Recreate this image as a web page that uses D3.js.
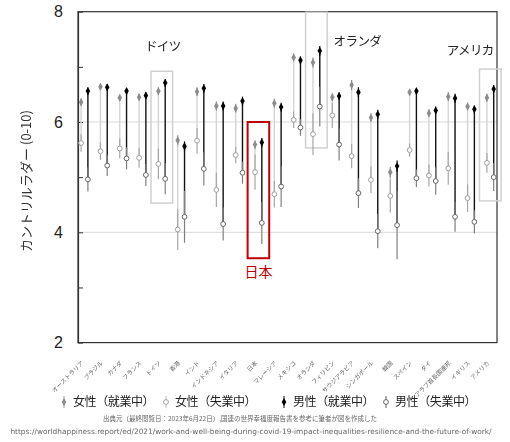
<!DOCTYPE html>
<html>
<head>
<meta charset="utf-8">
<script src="https://cdn.jsdelivr.net/npm/d3@7"></script>
<style>
  body { margin: 0; background: #fff; }
  svg text { font-family: "Noto Sans CJK JP", "Liberation Sans", sans-serif; }
  .grey-text { filter: grayscale(1); }
</style>
</head>
<body>
<div class="d3-wrapper"></div>
<script>
const countries = ['オーストラリア', 'ブラジル', 'カナダ', 'フランス', 'ドイツ', '香港', 'インド', 'インドネシア',
  'イタリア', '日本', 'マレーシア', 'メキシコ', 'オランダ', 'フィリピン', 'サウジアラビア', 'シンガポール',
  '韓国', 'スペイン', 'タイ', 'アラブ首長国連邦', 'イギリス', 'アメリカ'];

// 値（カントリルラダー）
const femaleEmployed   = [6.36, 6.64, 6.44, 6.45, 6.56, 5.67, 6.55, 6.29, 6.25, 5.59, 6.34, 7.17, 7.08, 6.45, 6.67, 6.08, 5.09, 6.54, 6.16, 6.46, 6.28, 6.44];
const femaleUnemployed = [5.62, 5.47, 5.52, 5.35, 5.24, 4.05, 5.66, 4.77, 5.40, 5.09, 4.69, 6.04, 5.78, 6.12, 5.38, 4.95, 4.66, 5.49, 5.03, 5.16, 4.62, 5.26];
const maleEmployed     = [6.56, 6.63, 6.56, 6.48, 6.71, 5.56, 6.61, 6.29, 6.38, 5.63, 6.27, 7.12, 7.29, 6.47, 6.54, 6.14, 5.20, 6.56, 6.21, 6.43, 6.23, 6.60];
const maleUnemployed   = [4.96, 5.21, 5.34, 5.04, 4.97, 4.28, 5.15, 4.15, 5.08, 4.17, 4.83, 5.90, 6.28, 5.59, 4.71, 4.02, 4.13, 4.98, 4.93, 4.28, 4.19, 5.00];

// 信頼区間（片側幅）
const femaleEmployedCI   = [0.07, 0.06, 0.06, 0.06, 0.07, 0.09, 0.08, 0.08, 0.08, 0.08, 0.08, 0.07, 0.09, 0.07, 0.09, 0.08, 0.10, 0.06, 0.07, 0.08, 0.07, 0.07];
const femaleUnemployedCI = [0.16, 0.16, 0.18, 0.18, 0.28, 0.37, 0.23, 0.31, 0.15, 0.32, 0.24, 0.15, 0.38, 0.23, 0.22, 0.24, 0.30, 0.12, 0.20, 0.30, 0.25, 0.18];
const maleEmployedCI     = [0.07, 0.06, 0.06, 0.06, 0.07, 0.09, 0.08, 0.08, 0.08, 0.08, 0.08, 0.07, 0.09, 0.07, 0.09, 0.08, 0.10, 0.06, 0.07, 0.08, 0.07, 0.07];
const maleUnemployedCI   = [0.22, 0.19, 0.20, 0.20, 0.28, 0.47, 0.30, 0.30, 0.20, 0.38, 0.37, 0.15, 0.36, 0.29, 0.27, 0.31, 0.62, 0.16, 0.25, 0.27, 0.21, 0.25];

const yTicks = [2, 3, 4, 5, 6, 7, 8];
const yTickLabels = [2, 4, 6, 8];
const gridValues = [4, 6];

// 注目国の枠（値の範囲）
const highlightCountries = ['ドイツ', 'オランダ', 'アメリカ'];
const highlightTop = [6.92, 7.99, 6.96];
const highlightBottom = [4.53, 5.53, 4.57];
const highlightLabels = ['ドイツ', 'オランダ', 'アメリカ'];
const japanBox = { country: '日本', top: 6.0, bottom: 3.53, label: '日本' };

const legendLabels = ['女性（就業中）', '女性（失業中）', '男性（就業中）', '男性（失業中）'];
const sourceLines = [
  '出典元（最終閲覧日：2023年6月22日）,国連の世界幸福度報告書を参考に筆者が図を作成した',
  'https://worldhappiness.report/ed/2021/work-and-well-being-during-covid-19-impact-inequalities-resilience-and-the-future-of-work/'
];

const WIDTH = 510, HEIGHT = 442;
const PLOT = { left: 78, right: 497, top: 11.7, bottom: 342.6 };
const OFFSET = 3.4;
const BOX_HALF = 10.8;

const xScale = d3.scalePoint().domain(countries).range([84.5, 490.3]);
const yScale = d3.scaleLinear().domain([2, 8]).range([PLOT.bottom, PLOT.top]);

const svg = d3.select('.d3-wrapper').append('svg')
  .attr('width', WIDTH)
  .attr('height', HEIGHT);

// gridlines
svg.append('g').selectAll('line')
  .data(gridValues)
  .enter().append('line')
  .attr('x1', PLOT.left).attr('x2', PLOT.right)
  .attr('y1', d => yScale(d)).attr('y2', d => yScale(d))
  .attr('stroke', '#d9d9d9').attr('stroke-width', 1);

// frame
svg.append('rect')
  .attr('x', PLOT.left).attr('y', PLOT.top)
  .attr('width', PLOT.right - PLOT.left)
  .attr('height', PLOT.bottom - PLOT.top)
  .attr('fill', 'none').attr('stroke', '#333').attr('stroke-width', 1.2);

// y axis
const yAxis = d3.axisLeft(yScale)
  .tickValues(yTicks)
  .tickSizeInner(-5)
  .tickSizeOuter(0)
  .tickPadding(15)
  .tickFormat(d => yTickLabels.includes(d) ? d : '');

const yG = svg.append('g')
  .attr('transform', `translate(${PLOT.left},0)`)
  .call(yAxis);
yG.select('.domain').attr('stroke', '#333').attr('stroke-width', 1.2);
yG.selectAll('.tick line').attr('stroke', '#333');
yG.selectAll('.tick text')
  .style('font-family', '"Liberation Sans", Arial, sans-serif')
  .style('font-size', '16px')
  .attr('fill', '#222');

svg.append('text')
  .attr('class', 'grey-text')
  .attr('transform', 'translate(31,181) rotate(-90)')
  .attr('text-anchor', 'middle')
  .style('font-size', '13px')
  .attr('fill', '#333')
  .text('カントリルラダー (0-10)');

// highlight boxes
highlightCountries.forEach((c, i) => {
  svg.append('rect')
    .attr('x', xScale(c) - BOX_HALF)
    .attr('y', yScale(highlightTop[i]))
    .attr('width', BOX_HALF * 2)
    .attr('height', yScale(highlightBottom[i]) - yScale(highlightTop[i]))
    .attr('fill', 'none').attr('stroke', '#d0d0d0').attr('stroke-width', 1.5);
});

svg.append('rect')
  .attr('x', xScale(japanBox.country) - BOX_HALF)
  .attr('y', yScale(japanBox.top))
  .attr('width', BOX_HALF * 2)
  .attr('height', yScale(japanBox.bottom) - yScale(japanBox.top))
  .attr('fill', 'none').attr('stroke', '#c00000').attr('stroke-width', 2);

// series drawing
const rows = countries.map((c, i) => ({
  c,
  fe: femaleEmployed[i], fu: femaleUnemployed[i],
  me: maleEmployed[i], mu: maleUnemployed[i],
  feCI: femaleEmployedCI[i], fuCI: femaleUnemployedCI[i],
  meCI: maleEmployedCI[i], muCI: maleUnemployedCI[i]
}));

const diamond = d3.symbol().type(d3.symbolDiamond).size(18);

function drawGender(key, dx, st) {
  const g = svg.append('g');
  const x = d => xScale(d.c) + dx;
  const emp = d => d[key + 'e'], unemp = d => d[key + 'u'];
  const empCI = d => d[key + 'eCI'], unempCI = d => d[key + 'uCI'];

  // connector employed -> unemployed
  g.selectAll('.conn').data(rows).enter().append('line')
    .attr('x1', x).attr('x2', x)
    .attr('y1', d => yScale(emp(d))).attr('y2', d => yScale(unemp(d)))
    .attr('stroke', st.conn).attr('stroke-width', st.connWidth);

  // unemployed CI
  g.selectAll('.uci').data(rows).enter().append('line')
    .attr('x1', x).attr('x2', x)
    .attr('y1', d => yScale(unemp(d) + unempCI(d))).attr('y2', d => yScale(unemp(d) - unempCI(d)))
    .attr('stroke', st.ci).attr('stroke-width', 1.2);

  // employed CI
  g.selectAll('.eci').data(rows).enter().append('line')
    .attr('x1', x).attr('x2', x)
    .attr('y1', d => yScale(emp(d) + empCI(d))).attr('y2', d => yScale(emp(d) - empCI(d)))
    .attr('stroke', st.emp).attr('stroke-width', 1.2);

  g.selectAll('.em').data(rows).enter().append('path')
    .attr('d', diamond)
    .attr('transform', d => `translate(${x(d)},${yScale(emp(d))})`)
    .attr('fill', st.emp);

  g.selectAll('.um').data(rows).enter().append('circle')
    .attr('cx', x).attr('cy', d => yScale(unemp(d)))
    .attr('r', 2.4)
    .attr('fill', '#fff').attr('stroke', st.unemp).attr('stroke-width', 1);
}

const femaleStyle = { conn: '#d4d4d4', connWidth: 1.4, ci: '#a6a6a6', emp: '#8c8c8c', unemp: '#a0a0a0' };
const maleStyle = { conn: '#111', connWidth: 1.4, ci: '#7f7f7f', emp: '#000', unemp: '#666' };

drawGender('f', -OFFSET, femaleStyle);
drawGender('m', OFFSET, maleStyle);

// annotation labels
const labelY = [47, 42, 51];
const labelDX = [1, 41, -20];
highlightCountries.forEach((c, i) => {
  svg.append('text')
    .attr('class', 'grey-text')
    .attr('x', xScale(c) + labelDX[i])
    .attr('y', labelY[i])
    .attr('dy', '0.35em')
    .attr('text-anchor', 'middle')
    .style('font-size', '12.5px')
    .style('letter-spacing', '-0.6px')
    .attr('fill', '#222')
    .text(highlightLabels[i]);
});

svg.append('text')
  .attr('x', xScale(japanBox.country))
  .attr('y', 272)
  .attr('dy', '0.35em')
  .attr('text-anchor', 'middle')
  .style('font-size', '14px')
  .attr('fill', '#c00000')
  .text(japanBox.label);

// x labels
svg.append('g')
  .attr('class', 'grey-text')
  .selectAll('text')
  .data(countries)
  .enter().append('text')
  .attr('transform', d => `translate(${xScale(d) - 2},362) rotate(-45)`)
  .attr('text-anchor', 'end')
  .attr('dy', '0.35em')
  .style('font-size', '6px')
  .attr('fill', '#666')
  .text(d => d);

// legend
const legendX = [64, 166, 284, 386];
const legendStyles = [
  { line: '#a6a6a6', filled: true, color: '#8c8c8c' },
  { line: '#c8c8c8', filled: false, color: '#a0a0a0' },
  { line: '#333', filled: true, color: '#000' },
  { line: '#777', filled: false, color: '#666' }
];
const legend = svg.append('g').selectAll('g')
  .data(legendLabels)
  .enter().append('g')
  .attr('transform', (d, i) => `translate(${legendX[i]},402)`);

legend.append('line')
  .attr('y1', -6).attr('y2', 6)
  .attr('stroke', (d, i) => legendStyles[i].line).attr('stroke-width', 1.2);

legend.each(function (d, i) {
  const s = legendStyles[i];
  const el = d3.select(this);
  if (s.filled) {
    el.append('path').attr('d', diamond).attr('fill', s.color);
  } else {
    el.append('circle').attr('r', 2.4).attr('fill', '#fff').attr('stroke', s.color);
  }
});

legend.append('text')
  .attr('class', 'grey-text')
  .attr('x', 9)
  .attr('dy', '0.35em')
  .style('font-size', '12px')
  .style('letter-spacing', '-0.4px')
  .attr('fill', '#222')
  .text(d => d);

// source
const source = svg.append('g').attr('class', 'grey-text');
source.append('text')
  .attr('x', 240).attr('y', 421)
  .attr('text-anchor', 'middle')
  .style('font-size', '6.5px')
  .attr('fill', '#666')
  .text(sourceLines[0]);

source.append('text')
  .attr('x', 251).attr('y', 434)
  .attr('text-anchor', 'middle')
  .style('font-family', '"DejaVu Sans", Verdana, sans-serif')
  .style('font-size', '7.4px')
  .attr('fill', '#666')
  .text(sourceLines[1]);
</script>
</body>
</html>
